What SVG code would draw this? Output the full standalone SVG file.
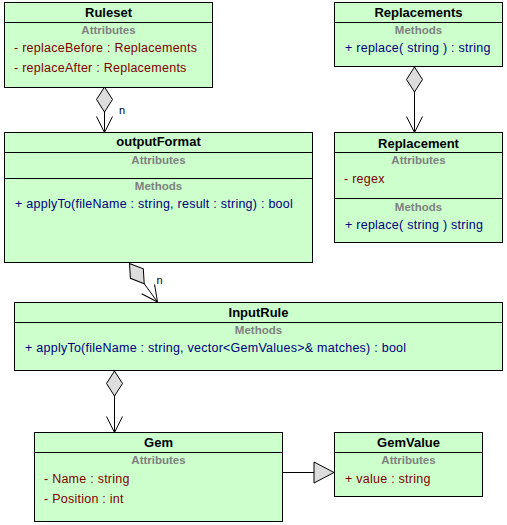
<svg xmlns="http://www.w3.org/2000/svg" width="507" height="525" viewBox="0 0 507 525">
<style>
.box{fill:#CCFFCC;stroke:#000;stroke-width:1}
.sep{stroke:#000;stroke-width:1}
.title{font-family:"Liberation Sans",Arial,sans-serif;font-size:13px;font-weight:bold;fill:#000;text-anchor:middle}
.sec{font-family:"Liberation Sans",Arial,sans-serif;font-size:11.5px;font-weight:bold;fill:#808080;text-anchor:middle}
.attr{font-family:"Liberation Sans",Arial,sans-serif;font-size:12.5px;letter-spacing:0.25px;fill:#800000}
.meth{font-family:"Liberation Sans",Arial,sans-serif;font-size:12.5px;letter-spacing:0.25px;fill:#000080}
.lbl{font-family:"Liberation Sans",Arial,sans-serif;font-size:11px;fill:#000}
.conn{stroke:#000;stroke-width:1;fill:none}
</style>
<defs>
<marker id="dia" markerUnits="userSpaceOnUse" markerWidth="30" markerHeight="20" refX="0" refY="0" orient="auto" overflow="visible">
<path d="M0,0 L12.5,-8 L25,0 L12.5,8 Z" fill="#DDDDDD" stroke="#000" stroke-width="1"/>
</marker>
<marker id="arr" markerUnits="userSpaceOnUse" markerWidth="20" markerHeight="20" refX="0" refY="0" orient="auto" overflow="visible">
<path d="M-16,-8 L0,0 L-16,8" fill="none" stroke="#000" stroke-width="1"/>
</marker>
<marker id="gen" markerUnits="userSpaceOnUse" markerWidth="24" markerHeight="24" refX="0" refY="0" orient="auto" overflow="visible">
<path d="M0,0 L-20,-10.5 L-20,10.5 Z" fill="#DDDDDD" stroke="#000" stroke-width="1"/>
</marker>
</defs>

<g id="connectors">
<line class="conn" x1="104.5" y1="87" x2="104.5" y2="132.5" marker-start="url(#dia)" marker-end="url(#arr)"/>
<text class="lbl" x="119" y="113.5">n</text>
<line class="conn" x1="414.5" y1="67" x2="414.5" y2="132.5" marker-start="url(#dia)" marker-end="url(#arr)"/>
<line class="conn" x1="129.5" y1="263.5" x2="157.5" y2="302" marker-start="url(#dia)" marker-end="url(#arr)"/>
<text class="lbl" x="156.5" y="284">n</text>
<line class="conn" x1="114.5" y1="371" x2="114.5" y2="432.5" marker-start="url(#dia)" marker-end="url(#arr)"/>
<line class="conn" x1="283" y1="472.5" x2="334" y2="472.5" marker-end="url(#gen)"/>
</g>

<g id="Ruleset">
<rect class="box" x="4.5" y="2.5" width="208" height="85"/>
<line class="sep" x1="4.5" y1="22.5" x2="212.5" y2="22.5"/>
<text class="title" x="108.5" y="17">Ruleset</text>
<text class="sec" x="108.5" y="34">Attributes</text>
<text class="attr" x="14" y="52">- replaceBefore : Replacements</text>
<text class="attr" x="14" y="72">- replaceAfter : Replacements</text>
</g>

<g id="Replacements">
<rect class="box" x="334.5" y="2.5" width="168" height="64"/>
<line class="sep" x1="334.5" y1="22.5" x2="502.5" y2="22.5"/>
<text class="title" x="418.5" y="17">Replacements</text>
<text class="sec" x="418.5" y="34">Methods</text>
<text class="meth" x="345" y="52">+ replace( string ) : string</text>
</g>

<g id="Replacement">
<rect class="box" x="334.5" y="132.5" width="168" height="110"/>
<line class="sep" x1="334.5" y1="152.5" x2="502.5" y2="152.5"/>
<line class="sep" x1="334.5" y1="198.5" x2="502.5" y2="198.5"/>
<text class="title" x="418.5" y="148">Replacement</text>
<text class="sec" x="418.5" y="164">Attributes</text>
<text class="attr" x="344" y="183">- regex</text>
<text class="sec" x="418.5" y="210.5">Methods</text>
<text class="meth" x="345" y="228.5">+ replace( string ) string</text>
</g>

<g id="outputFormat">
<rect class="box" x="4.5" y="132.5" width="308" height="130"/>
<line class="sep" x1="4.5" y1="152.5" x2="312.5" y2="152.5"/>
<line class="sep" x1="4.5" y1="178.5" x2="312.5" y2="178.5"/>
<text class="title" x="158.5" y="146">outputFormat</text>
<text class="sec" x="158.5" y="164">Attributes</text>
<text class="sec" x="158.5" y="190">Methods</text>
<text class="meth" x="15" y="208">+ applyTo(fileName : string, result : string) : bool</text>
</g>

<g id="InputRule">
<rect class="box" x="14.5" y="302.5" width="488" height="68"/>
<line class="sep" x1="14.5" y1="322.5" x2="502.5" y2="322.5"/>
<text class="title" x="258.5" y="317">InputRule</text>
<text class="sec" x="258.5" y="334">Methods</text>
<text class="meth" x="25" y="352">+ applyTo(fileName : string, vector&lt;GemValues&gt;&amp; matches) : bool</text>
</g>

<g id="Gem">
<rect class="box" x="34.5" y="432.5" width="248" height="89"/>
<line class="sep" x1="34.5" y1="452.5" x2="282.5" y2="452.5"/>
<text class="title" x="158.5" y="447">Gem</text>
<text class="sec" x="158.5" y="464">Attributes</text>
<text class="attr" x="44" y="482.5">- Name : string</text>
<text class="attr" x="44" y="502.5">- Position : int</text>
</g>

<g id="GemValue">
<rect class="box" x="334.5" y="432.5" width="148" height="64"/>
<line class="sep" x1="334.5" y1="452.5" x2="482.5" y2="452.5"/>
<text class="title" x="408.5" y="447">GemValue</text>
<text class="sec" x="408.5" y="464">Attributes</text>
<text class="attr" x="345" y="482.5">+ value : string</text>
</g>
</svg>
